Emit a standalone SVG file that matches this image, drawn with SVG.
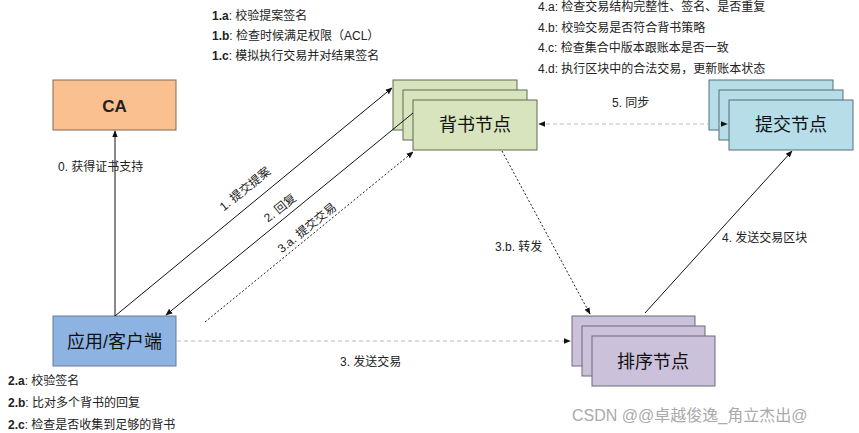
<svg xmlns="http://www.w3.org/2000/svg" width="859" height="433" viewBox="0 0 859 433">
<style>
text{font-family:"Liberation Sans","Noto Sans CJK SC",sans-serif;fill:#222}
.note{font-size:12px}
.lbl{font-size:12px}
.big{font-size:18px;text-anchor:middle;fill:#111}
.ca{fill:#FAC090;stroke:#7f6a55;stroke-width:1}
.cl{fill:#8DB3E2;stroke:#6a7a8f;stroke-width:1}
.en{fill:#D7E4BD;stroke:#5f6a50;stroke-width:1}
.co{fill:#B7DDE8;stroke:#55707a;stroke-width:1}
.or{fill:#CCC1DA;stroke:#6a6a78;stroke-width:1}
.solid{stroke:#111;stroke-width:1;fill:none}
.dot{stroke:#222;stroke-width:1;fill:none;stroke-dasharray:2 2}
.dash{stroke:#bbb;stroke-width:1;fill:none;stroke-dasharray:4 3}
.wm{font-size:16px;fill:#aaa}
</style>
<defs>
<marker id="ah" viewBox="0 0 10 10" refX="9" refY="5" markerWidth="7" markerHeight="7" orient="auto-start-reverse" markerUnits="userSpaceOnUse">
<path d="M0,1 L10,5 L0,9 z" fill="#111"/>
</marker>
</defs>

<g id="notes">
<text class="note" x="212" y="20"><tspan font-weight="bold">1.a</tspan>: 校验提案签名</text>
<text class="note" x="212" y="40"><tspan font-weight="bold">1.b</tspan>: 检查时候满足权限（ACL）</text>
<text class="note" x="212" y="60"><tspan font-weight="bold">1.c</tspan>: 模拟执行交易并对结果签名</text>
<text class="note" x="538" y="11">4.a: 检查交易结构完整性、签名、是否重复</text>
<text class="note" x="538" y="32">4.b: 校验交易是否符合背书策略</text>
<text class="note" x="538" y="52">4.c: 检查集合中版本跟账本是否一致</text>
<text class="note" x="538" y="73">4.d: 执行区块中的合法交易，更新账本状态</text>
<text class="note" x="8" y="385"><tspan font-weight="bold">2.a</tspan>: 校验签名</text>
<text class="note" x="8" y="407"><tspan font-weight="bold">2.b</tspan>: 比对多个背书的回复</text>
<text class="note" x="8" y="429"><tspan font-weight="bold">2.c</tspan>: 检查是否收集到足够的背书</text>
</g>

<g id="node-ca">
<rect class="ca" x="53" y="80" width="123" height="50"/>
<text x="114.5" y="112" font-size="17" font-weight="bold" text-anchor="middle" fill="#111">CA</text>
</g>

<g id="node-client">
<rect class="cl" x="53" y="316" width="123" height="50"/>
<text class="big" x="114.5" y="348">应用/客户端</text>
</g>

<g id="node-endorser">
<rect class="en" x="393" y="80" width="124" height="50"/>
<rect class="en" x="403" y="90" width="124" height="50"/>
<rect class="en" x="413" y="100" width="124" height="50"/>
<text class="big" x="475" y="131">背书节点</text>
</g>

<g id="node-committer">
<rect class="co" x="709" y="80" width="124" height="50"/>
<rect class="co" x="719" y="90" width="124" height="50"/>
<rect class="co" x="729" y="100" width="124" height="50"/>
<text class="big" x="791" y="131">提交节点</text>
</g>

<g id="node-orderer">
<rect class="or" x="572" y="316" width="123" height="50"/>
<rect class="or" x="582" y="326" width="123" height="50"/>
<rect class="or" x="592" y="336" width="123" height="50"/>
<text class="big" x="653" y="368">排序节点</text>
</g>

<g id="connectors">
<line class="solid" x1="115" y1="316" x2="115" y2="131" marker-end="url(#ah)"/>
<line class="solid" x1="115" y1="316" x2="392" y2="88" marker-end="url(#ah)"/>
<line class="solid" x1="413" y1="113" x2="166" y2="315" marker-end="url(#ah)"/>
<line class="dot" x1="205" y1="322" x2="413" y2="152" marker-end="url(#ah)"/>
<line class="dash" x1="177" y1="341" x2="570" y2="341" marker-end="url(#ah)"/>
<line class="dot" x1="502" y1="151" x2="590" y2="314" marker-end="url(#ah)"/>
<line class="solid" x1="645" y1="313" x2="792" y2="151" marker-end="url(#ah)"/>
<line class="dash" x1="539" y1="124" x2="708" y2="124" marker-start="url(#ah)"/>
<line class="dash" x1="719" y1="124" x2="727" y2="124" marker-end="url(#ah)"/>
</g>

<g id="labels">
<text class="lbl" x="58" y="171">0. 获得证书支持</text>
<text class="lbl" x="245" y="193" text-anchor="middle" transform="rotate(-39 245 189)">1. 提交提案</text>
<text class="lbl" x="280" y="212" text-anchor="middle" transform="rotate(-39 280 208)">2. 回复</text>
<text class="lbl" x="307" y="232" text-anchor="middle" transform="rotate(-39 307 228)">3.a. 提交交易</text>
<text class="lbl" x="340" y="366">3. 发送交易</text>
<text class="lbl" x="495" y="251">3.b. 转发</text>
<text class="lbl" x="722" y="242">4. 发送交易区块</text>
<text class="lbl" x="612" y="107">5. 同步</text>
</g>

<text class="wm" x="572" y="421">CSDN @@卓越俊逸_角立杰出@</text>
</svg>
